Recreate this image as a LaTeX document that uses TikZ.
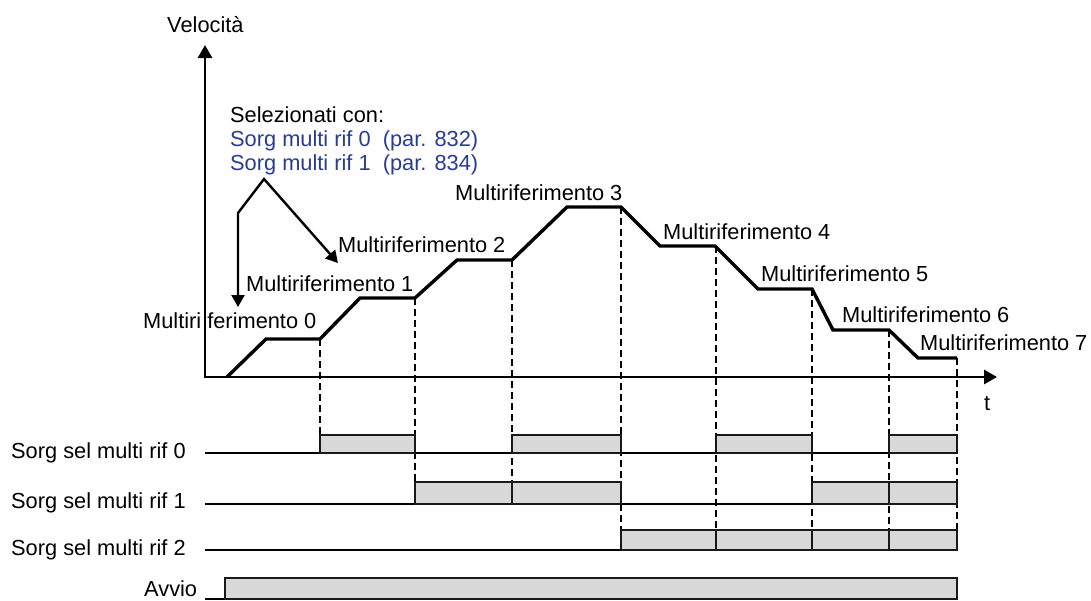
\documentclass[tikz,border=0pt]{standalone}
\usepackage{fontspec}
\setmainfont{Liberation Sans}
\usetikzlibrary{arrows.meta}
\definecolor{refblue}{RGB}{40,60,150}
\definecolor{pulsegray}{RGB}{216,216,216}
\begin{document}
\begin{tikzpicture}[x=1pt,y=-1pt,
  lbl/.style={inner sep=0pt, font=\fontsize{21.8}{26}\selectfont, anchor=base west},
  axisline/.style={line width=2.8pt, {Triangle[length=13pt,width=14pt]}-{Triangle[length=13pt,width=14pt]}},
  profline/.style={line width=3.4pt, line join=miter},
  guideline/.style={line width=1.3pt, dash pattern=on 7pt off 4pt},
  noteline/.style={line width=2.4pt, line join=miter, {Triangle[length=12pt,width=13pt]}-{Triangle[length=12pt,width=13pt]}},
  baseln/.style={line width=1.8pt},
  pulsebox/.style={fill=pulsegray, draw=black!90, line width=2.2pt}]
\useasboundingbox (0,0) rectangle (1091,600);
\fill[white] (0,0) rectangle (1091,600);

% axes
\coordinate (O) at (205,377);
\coordinate (ytip) at (205,45);
\coordinate (xtip) at (997,377);

% profile points
\coordinate (p0) at (227,377);
\coordinate (p1) at (266,339);
\coordinate (p2) at (320,339);
\coordinate (p3) at (360,298);
\coordinate (p4) at (415,298);
\coordinate (p5) at (457,260);
\coordinate (p6) at (512,260);
\coordinate (p7) at (567,207);
\coordinate (p8) at (621,207);
\coordinate (p9) at (660,246);
\coordinate (p10) at (715,246);
\coordinate (p11) at (758,289);
\coordinate (p12) at (812,289);
\coordinate (p13) at (833,330);
\coordinate (p14) at (889,330);
\coordinate (p15) at (918,358);
\coordinate (p16) at (957,358);

% row levels
\coordinate (r0h) at (0,435);
\coordinate (r1h) at (0,482);
\coordinate (r2h) at (0,530);

% guide lines
\draw[guideline] (p2) -- (p2 |- r0h);
\draw[guideline] (p4) -- (p4 |- r1h);
\draw[guideline] (p6) -- (p6 |- r1h);
\draw[guideline] (p8) -- (p8 |- r2h);
\draw[guideline] (716,246) -- (716,530);
\draw[guideline] (p12) -- (p12 |- r2h);
\draw[guideline] (p14) -- (p14 |- r2h);
\draw[guideline] (p16) -- (p16 |- r2h);

% axes and profile
\draw[axisline] (ytip) -- (O) -- (xtip);
\draw[profline] (p0) -- (p1) -- (p2) -- (p3) -- (p4) -- (p5) -- (p6) -- (p7) -- (p8)
  -- (p9) -- (p10) -- (p11) -- (p12) -- (p13) -- (p14) -- (p15) -- (p16);

% annotation arrows
\coordinate (apex) at (264,179);
\coordinate (bend) at (238,213);
\coordinate (tipL) at (238,307);
\coordinate (tipR) at (338,263);
\draw[noteline] (tipR) -- (apex) -- (bend) -- (tipL);

% timing baselines
\draw[baseln] (205,453) -- (957,453);
\draw[baseln] (205,504) -- (957,504);
\draw[baseln] (205,550) -- (621,550);
\draw[baseln] (205,599) -- (957,599);

% row 0
\draw[pulsebox] (320,435) rectangle (415,453);
\draw[pulsebox] (512,435) rectangle (621,453);
\draw[pulsebox] (716,435) rectangle (812,453);
\draw[pulsebox] (889,435) rectangle (957,453);
% row 1
\draw[pulsebox] (415,482) rectangle (512,504);
\draw[pulsebox] (512,482) rectangle (621,504);
\draw[pulsebox] (812,482) rectangle (889,504);
\draw[pulsebox] (889,482) rectangle (957,504);
% row 2
\draw[pulsebox] (621,530) rectangle (716,550);
\draw[pulsebox] (716,530) rectangle (812,550);
\draw[pulsebox] (812,530) rectangle (889,550);
\draw[pulsebox] (889,530) rectangle (957,550);
% avvio
\draw[pulsebox] (225,578) rectangle (957,599);

% texts
\node[lbl] (vel) at (167,32) {Velocità};
\node[lbl] (tlab) at (984,410) {t};
\node[lbl] (sel) at (230,122) {Selezionati con:};
\node[lbl,text=refblue] (s0) at (230,146) {Sorg multi rif 0\ \ (par. 832)};
\node[lbl,text=refblue] (s1) at (230,170) {Sorg multi rif 1\ \ (par. 834)};

\node[lbl] (m0) at (143,328) {Multiri\kern6pt ferimento 0};
\node[lbl] (m1) at (246,291) {Multiriferimento 1};
\node[lbl] (m2) at (338,252) {Multiriferimento 2};
\node[lbl] (m3) at (455,200) {Multiriferimento 3};
\node[lbl] (m4) at (663,239) {Multiriferimento 4};
\node[lbl] (m5) at (761,281) {Multiriferimento 5};
\node[lbl] (m6) at (842,322) {Multiriferimento 6};
\node[lbl] (m7) at (920,350) {Multiriferimento 7};

\node[lbl] (row0) at (11,458) {Sorg sel multi rif 0};
\node[lbl] (row1) at (11,508) {Sorg sel multi rif 1};
\node[lbl] (row2) at (11,555) {Sorg sel multi rif 2};
\node[lbl] (avvio) at (144,596) {Avvio};
\end{tikzpicture}
\end{document}
